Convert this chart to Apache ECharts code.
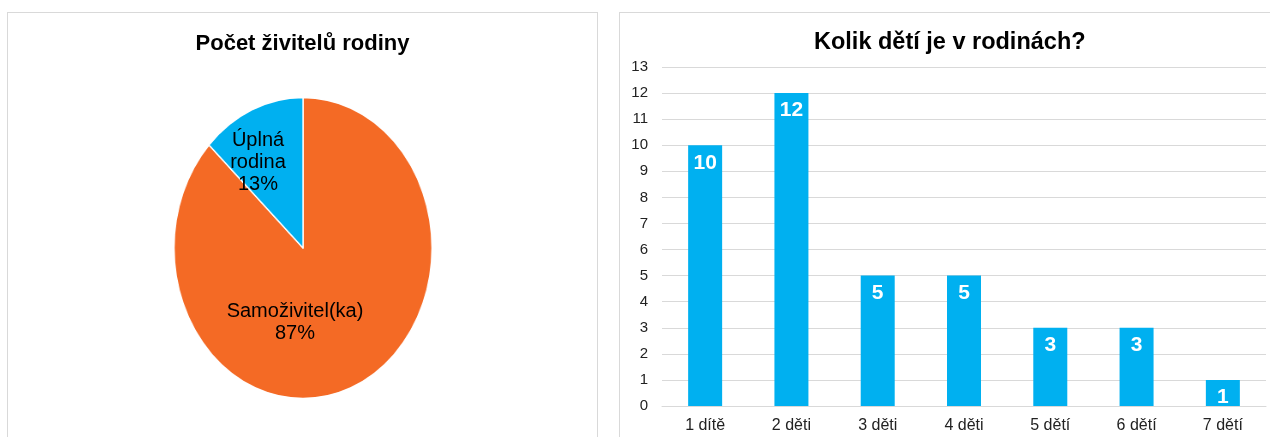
<!DOCTYPE html>
<html lang="cs">
<head>
    <meta charset="utf-8"/>
    <title>Rodiny</title>
    <script src="https://cdn.jsdelivr.net/npm/echarts@6/dist/echarts.min.js"></script>
    <style>
        body { margin: 0; background: #fff; width: 1270px; height: 437px; overflow: hidden; position: relative; }
        .panel { position: absolute; top: 12px; height: 440px; border: 1px solid #d9d9d9; box-sizing: border-box; }
        /* v originale je kolac roztazeny do elipsy */
        #pieShape { position: absolute; left: 143px; top: 88px; width: 320px; height: 320px; transform: scaleX(0.857); transform-origin: 50% 50%; }
    </style>
</head>
<body>
<div id="pieShape"></div>
<div id="pie" class="panel" style="left: 7px; width: 591px;"></div>
<div id="bar" class="panel" style="left: 619px; width: 660px;"></div>
<script type="text/javascript">
    // levy graf - zivitele
    var pieNames = ['Samoživitel(ka)', 'Úplná rodina'];
    var pieValues = [87, 13];
    var pieColors = ['#F46A25', '#00B0F0'];

    // pravy graf - pocet deti
    var categories = ['1 dítě', '2 děti', '3 děti', '4 děti', '5 dětí', '6 dětí', '7 dětí'];
    var counts = [10, 12, 5, 5, 3, 3, 1];

    var font = '"Liberation Sans", Arial, sans-serif';

    var pieData = [];
    for (var i = 0; i < pieNames.length; i++) {
        pieData.push({name: pieNames[i], value: pieValues[i], itemStyle: {color: pieColors[i]}});
    }

    // vrstva s vysecemi (zuzena pres css)
    var shapeChart = echarts.init(document.getElementById('pieShape'));
    shapeChart.setOption({
        animation: false,
        series: [{
            type: 'pie',
            center: [160, 160],
            radius: 150.5,
            startAngle: 90,
            clockwise: true,
            itemStyle: {borderColor: '#fff', borderWidth: 1.5},
            label: {show: false},
            labelLine: {show: false},
            data: pieData
        }]
    });

    // vrstva s nadpisem a popisky
    var pieChart = echarts.init(document.getElementById('pie'));
    pieChart.setOption({
        animation: false,
        title: {
            text: 'Počet živitelů rodiny',
            left: 'center',
            top: 15,
            textStyle: {fontFamily: font, fontSize: 22, fontWeight: 'bold', color: '#000'}
        },
        series: [{
            type: 'pie',
            center: [296, 236],
            radius: 140,
            startAngle: 90,
            clockwise: true,
            silent: true,
            itemStyle: {color: 'transparent'},
            label: {
                show: true,
                position: 'inside',
                fontFamily: font,
                fontSize: 20,
                lineHeight: 22,
                color: '#000',
                formatter: function (p) {
                    var n = p.name === 'Úplná rodina' ? 'Úplná\nrodina' : p.name;
                    return n + '\n' + p.value + '%';
                }
            },
            labelLayout: function (p) {
                return p.dataIndex === 0 ? {dx: -38, dy: 6} : {dx: -17, dy: -20};
            },
            data: pieNames.map(function (n, k) { return {name: n, value: pieValues[k]}; })
        }]
    });

    var barChart = echarts.init(document.getElementById('bar'));
    barChart.setOption({
        animation: false,
        title: {
            text: 'Kolik dětí je v rodinách?',
            left: 189,
            top: 13,
            textStyle: {fontFamily: font, fontSize: 23.5, fontWeight: 'bold', color: '#000'}
        },
        grid: {left: 42, top: 54, width: 604, height: 339},
        xAxis: {
            type: 'category',
            data: categories,
            axisLine: {lineStyle: {color: '#d9d9d9', width: 1}},
            axisTick: {show: false},
            axisLabel: {fontFamily: font, fontSize: 16, color: '#222', margin: 12}
        },
        yAxis: {
            type: 'value',
            min: 0,
            max: 13,
            interval: 1,
            axisLine: {show: false},
            axisTick: {show: false},
            splitLine: {lineStyle: {color: '#d9d9d9', width: 1}},
            axisLabel: {fontFamily: font, fontSize: 15, color: '#222', margin: 14}
        },
        series: [{
            type: 'bar',
            data: counts,
            barWidth: 34,
            itemStyle: {color: '#00B0F0'},
            label: {
                show: true,
                position: 'insideTop',
                distance: 7,
                fontFamily: font,
                fontSize: 21,
                fontWeight: 'bold',
                color: '#fff'
            }
        }]
    });
</script>
</body>
</html>
